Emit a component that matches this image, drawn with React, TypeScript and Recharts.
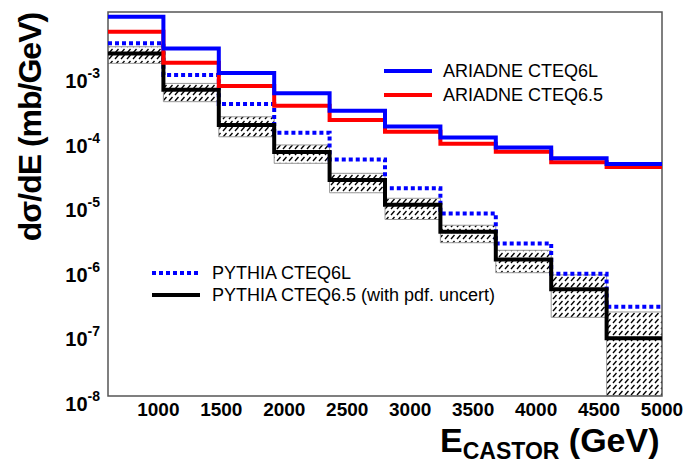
import { ComposedChart, Line, Area, XAxis, YAxis, ReferenceArea } from 'recharts';

// bin edges in GeV (10 bins of 440 GeV)
const binEdges = [600, 1040, 1480, 1920, 2360, 2800, 3240, 3680, 4120, 4560, 5000];

// dσ/dE per bin, mb/GeV
const ariadne6L = [7.4e-3, 2.4e-3, 1.0e-3, 4.85e-4, 2.6e-4, 1.48e-4, 1.0e-4, 7.0e-5, 4.8e-5, 3.9e-5];
const ariadne65 = [4.35e-3, 1.44e-3, 6.3e-4, 3.1e-4, 1.87e-4, 1.23e-4, 8.0e-5, 6.05e-5, 4.15e-5, 3.5e-5];
const pythia6L = [2.9e-3, 9.3e-4, 3.3e-4, 1.19e-4, 4.6e-5, 1.64e-5, 6.7e-6, 2.3e-6, 7.8e-7, 2.4e-7];
const pythia65 = [2.0e-3, 5.5e-4, 1.57e-4, 6.0e-5, 2.2e-5, 9.1e-6, 3.5e-6, 1.3e-6, 4.5e-7, 7.8e-8];
const pdfLow = [1.41e-3, 3.6e-4, 1.03e-4, 4.0e-5, 1.4e-5, 5.4e-6, 2.36e-6, 8.1e-7, 1.65e-7, 1e-8];
const pdfHigh = [2.55e-3, 6.9e-4, 2.1e-4, 7.7e-5, 2.8e-5, 1.15e-5, 4.4e-6, 1.8e-6, 7.5e-7, 2.0e-7];

const xTicks = [1000, 1500, 2000, 2500, 3000, 3500, 4000, 4500, 5000];
const yTicks = [1e-8, 1e-7, 1e-6, 1e-5, 1e-4, 1e-3];
const yMin = 1e-8;
const yMax = 8.8e-3;

// one row per bin edge, last edge repeats the last bin so the step closes at 5000
const rows = binEdges.map((e, i) => {
  const k = Math.min(i, binEdges.length - 2);
  return {
    e,
    a6L: ariadne6L[k],
    a65: ariadne65[k],
    p6L: pythia6L[k],
    p65: pythia65[k],
    band: [pdfLow[k], pdfHigh[k]],
  };
});

const font = '"Liberation Sans", Arial, Helvetica, sans-serif';

function PowTick(props: any) {
  const { x, y, payload } = props;
  const exp = Math.round(Math.log10(payload.value));
  return (
    <text x={x} y={y + 15} textAnchor="end" fontFamily={font} fontWeight="bold" fill="#000">
      <tspan fontSize={20}>10</tspan>
      <tspan fontSize={14} dy={-10}>{exp}</tspan>
    </text>
  );
}

export default function App() {
  return (
    <div style={{ position: 'absolute', left: 0, top: 0, width: 689, height: 460, background: '#fff' }}>
      <ComposedChart
        width={689}
        height={460}
        data={rows}
        margin={{ top: 12, right: 27, bottom: 0, left: 0 }}
      >
        <defs>
          <pattern id="hatch" width="6" height="6" patternUnits="userSpaceOnUse">
            <rect width="6" height="6" fill="#fff" />
            <line x1="1" y1="5" x2="4.5" y2="1" stroke="#000" strokeWidth="1.3" />
          </pattern>
        </defs>
        <XAxis
          dataKey="e"
          type="number"
          domain={[600, 5000]}
          ticks={xTicks}
          allowDataOverflow
          height={64}
          axisLine={false}
          tickLine={false}
          tickSize={0}
          tickMargin={7}
          tick={{ fontFamily: font, fontWeight: 'bold', fontSize: 19, fill: '#000' }}
        />
        <YAxis
          type="number"
          scale="log"
          domain={[yMin, yMax]}
          ticks={yTicks}
          allowDataOverflow
          width={108}
          axisLine={false}
          tickLine={false}
          tickSize={0}
          tickMargin={8}
          tick={<PowTick />}
        />
        <Area
          dataKey="band"
          type="stepAfter"
          stroke="#999"
          strokeWidth={1}
          fill="url(#hatch)"
          fillOpacity={1}
          isAnimationActive={false}
        />
        <Line dataKey="p6L" type="stepAfter" stroke="#0000ff" strokeWidth={4} strokeDasharray="4 3" dot={false} isAnimationActive={false} />
        <Line dataKey="p65" type="stepAfter" stroke="#000" strokeWidth={4} dot={false} isAnimationActive={false} />
        <Line dataKey="a65" type="stepAfter" stroke="#ff0000" strokeWidth={4} dot={false} isAnimationActive={false} />
        <Line dataKey="a6L" type="stepAfter" stroke="#0000ff" strokeWidth={4} dot={false} isAnimationActive={false} />
        <ReferenceArea x1={600} x2={5000} y1={yMin} y2={yMax} fill="none" stroke="#555" strokeWidth={1.5} />
      </ComposedChart>

      <svg width={689} height={460} style={{ position: 'absolute', left: 0, top: 0, pointerEvents: 'none' }}>
        <text
          transform="translate(41,127) rotate(-90)"
          textAnchor="middle"
          fontFamily={font}
          fontWeight="bold"
          fontSize={32}
          letterSpacing={-1}
          fill="#000"
        >
          dσ/dE (mb/GeV)
        </text>
        <text x={440} y={452} fontFamily={font} fontWeight="bold" fontSize={34} fill="#000">
          E<tspan fontSize={23} dy={7}>CASTOR</tspan>
          <tspan fontSize={34} dy={-7}> (GeV)</tspan>
        </text>

        <line x1={384} y1={71} x2={432} y2={71} stroke="#0000ff" strokeWidth={4} />
        <text x={443} y={77} fontFamily={font} fontSize={18} fill="#000">ARIADNE CTEQ6L</text>
        <line x1={384} y1={95} x2={432} y2={95} stroke="#ff0000" strokeWidth={4} />
        <text x={443} y={101} fontFamily={font} fontSize={18} fill="#000">ARIADNE CTEQ6.5</text>

        <line x1={152} y1={273} x2={200} y2={273} stroke="#0000ff" strokeWidth={4} strokeDasharray="4 3" />
        <text x={212} y={279} fontFamily={font} fontSize={18} fill="#000">PYTHIA CTEQ6L</text>
        <line x1={152} y1={295} x2={200} y2={295} stroke="#000" strokeWidth={4} />
        <text x={212} y={301} fontFamily={font} fontSize={18} fill="#000">PYTHIA CTEQ6.5 (with pdf. uncert)</text>
      </svg>
    </div>
  );
}
